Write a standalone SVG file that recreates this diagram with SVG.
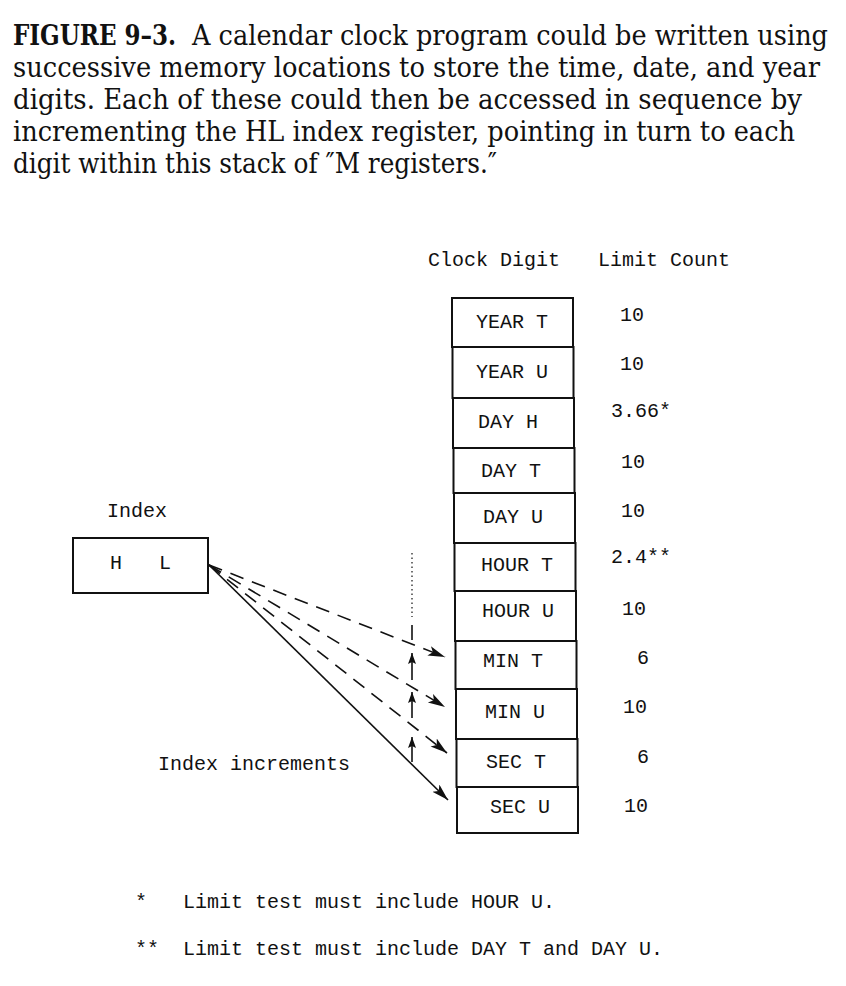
<svg xmlns="http://www.w3.org/2000/svg" width="846" height="986" viewBox="0 0 846 986">
<style>
.cap{font-family:"DejaVu Serif Condensed","DejaVu Serif","Liberation Serif",serif;font-stretch:condensed;font-size:27px;fill:#111}
.capb{font-weight:bold}
.tw{font-family:"Liberation Mono","DejaVu Sans Mono",monospace;font-size:20px;fill:#111}
.box{fill:#fff;stroke:#111;stroke-width:2}
.ln{stroke:#111;stroke-width:1.6;fill:none}
.dash{stroke-dasharray:14 9}
.dot{stroke-dasharray:1.5 3;stroke-width:1.2}
</style>
<defs>
<marker id="ah" markerUnits="userSpaceOnUse" markerWidth="18" markerHeight="12" refX="17" refY="5" orient="auto">
<path d="M0,0 L17,5 L0,10 L4,5 z" fill="#111"/>
</marker>
<marker id="as" markerUnits="userSpaceOnUse" markerWidth="12" markerHeight="10" refX="11" refY="4" orient="auto">
<path d="M0,0 L11,4 L0,8 L2,4 z" fill="#111"/>
</marker>
</defs>
<rect width="846" height="986" fill="#fff"/>
<g id="caption">
<text class="cap capb" x="13" y="45" textLength="163" lengthAdjust="spacingAndGlyphs">FIGURE 9–3.</text>
<text class="cap" x="192" y="45" textLength="636" lengthAdjust="spacingAndGlyphs">A calendar clock program could be written using</text>
<text class="cap" x="13" y="77" textLength="807" lengthAdjust="spacingAndGlyphs">successive memory locations to store the time, date, and year</text>
<text class="cap" x="13" y="109" textLength="789" lengthAdjust="spacingAndGlyphs">digits. Each of these could then be accessed in sequence by</text>
<text class="cap" x="13" y="141" textLength="782" lengthAdjust="spacingAndGlyphs">incrementing the HL index register, pointing in turn to each</text>
<text class="cap" x="13" y="173" textLength="484" lengthAdjust="spacingAndGlyphs">digit within this stack of ″M registers.″</text>
</g>
<g id="headers">
<text class="tw" x="428" y="266">Clock Digit</text>
<text class="tw" x="598" y="266">Limit Count</text>
</g>
<g id="index">
<text class="tw" x="107" y="517">Index</text>
<rect class="box" x="73" y="538" width="135" height="55"/>
<text class="tw" x="110" y="569">H</text>
<text class="tw" x="159" y="569">L</text>
</g>
<g id="row-year-t"><rect class="box" x="452" y="298" width="121" height="49"/><text class="tw" x="476" y="328">YEAR T</text><text class="tw" x="620" y="321">10</text></g>
<g id="row-year-u"><rect class="box" x="452.5" y="347" width="121" height="51"/><text class="tw" x="476" y="378">YEAR U</text><text class="tw" x="620" y="370">10</text></g>
<g id="row-day-h"><rect class="box" x="453" y="398" width="121" height="50"/><text class="tw" x="478" y="428">DAY H</text><text class="tw" x="611" y="417">3.66*</text></g>
<g id="row-day-t"><rect class="box" x="453.5" y="448" width="121" height="45"/><text class="tw" x="481" y="477">DAY T</text><text class="tw" x="621" y="468">10</text></g>
<g id="row-day-u"><rect class="box" x="454" y="493" width="121" height="50"/><text class="tw" x="483" y="523">DAY U</text><text class="tw" x="621" y="517">10</text></g>
<g id="row-hour-t"><rect class="box" x="454.5" y="543" width="121" height="48"/><text class="tw" x="481" y="571">HOUR T</text><text class="tw" x="611" y="563">2.4**</text></g>
<g id="row-hour-u"><rect class="box" x="455" y="591" width="121" height="50"/><text class="tw" x="482" y="617">HOUR U</text><text class="tw" x="622" y="615">10</text></g>
<g id="row-min-t"><rect class="box" x="455.5" y="641" width="121" height="48"/><text class="tw" x="483" y="667">MIN T</text><text class="tw" x="637" y="664">6</text></g>
<g id="row-min-u"><rect class="box" x="456" y="689" width="121" height="50"/><text class="tw" x="485" y="718">MIN U</text><text class="tw" x="623" y="713">10</text></g>
<g id="row-sec-t"><rect class="box" x="456.5" y="739" width="121" height="48"/><text class="tw" x="486" y="768">SEC T</text><text class="tw" x="637" y="763">6</text></g>
<g id="row-sec-u"><rect class="box" x="457" y="787" width="121" height="46"/><text class="tw" x="490" y="813">SEC U</text><text class="tw" x="624" y="812">10</text></g>
<g id="label-increments"><text class="tw" x="158" y="770">Index increments</text></g>
<g id="connectors">
<line class="ln dash" x1="209" y1="565" x2="445" y2="657" marker-end="url(#ah)"/>
<line class="ln dash" x1="209" y1="565" x2="445" y2="707" marker-end="url(#ah)"/>
<line class="ln dash" x1="209" y1="565" x2="447" y2="753" marker-end="url(#ah)"/>
<line class="ln" x1="209" y1="565" x2="448" y2="800" marker-end="url(#ah)"/>
<line class="ln dot" x1="412" y1="553" x2="412" y2="617"/>
<line class="ln" x1="412" y1="625" x2="412" y2="640"/>
<line class="ln" x1="412" y1="680" x2="412" y2="653" marker-end="url(#as)"/>
<line class="ln" x1="412" y1="718" x2="412" y2="692" marker-end="url(#as)"/>
<line class="ln" x1="412" y1="762" x2="412" y2="737" marker-end="url(#as)"/>
</g>
<g id="footnotes">
<text class="tw" x="135" y="908">*</text>
<text class="tw" x="183" y="908">Limit test must include HOUR U.</text>
<text class="tw" x="135" y="955">**</text>
<text class="tw" x="183" y="955">Limit test must include DAY T and DAY U.</text>
</g>
</svg>
